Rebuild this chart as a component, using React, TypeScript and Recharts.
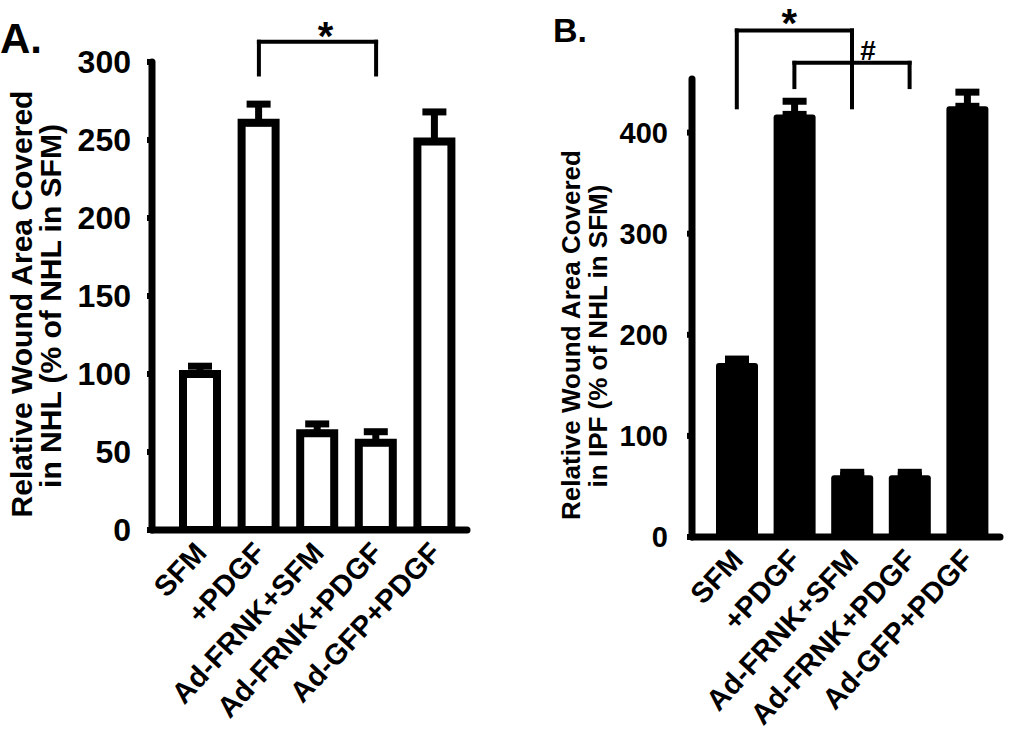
import { BarChart, Bar, XAxis, YAxis, ErrorBar, ReferenceLine, ReferenceDot } from 'recharts';

const FONT = "'Liberation Sans', Arial, Helvetica, sans-serif";

const categories = ['SFM', '+PDGF', 'Ad-FRNK+SFM', 'Ad-FRNK+PDGF', 'Ad-GFP+PDGF'];

// panel A: NHL fibroblasts
const nhlValues = [100, 261, 62, 56, 249];
const nhlErrors = [5, 12, 6, 7, 19];
const nhlTicks = [0, 50, 100, 150, 200, 250, 300];

// panel B: IPF fibroblasts
const ipfValues = [172, 418, 61, 61, 426];
const ipfErrors = [4, 13, 3, 3, 14];
const ipfTicks = [0, 100, 200, 300, 400];

// significance brackets (data units)
const nhlBrackets = [{ from: '+PDGF', to: 'Ad-FRNK+PDGF', top: 313, foot: 292 }];
const nhlMarks = [{ at: 'Ad-FRNK+SFM', y: 308, text: '*', size: 40, dx: 8 }];
const ipfBrackets = [
  { from: 'SFM', to: 'Ad-FRNK+SFM', top: 501, foot: 425 },
  { from: '+PDGF', to: 'Ad-FRNK+PDGF', top: 469, foot: 445 },
];
const ipfMarks = [
  { at: '+PDGF', y: 495, text: '*', size: 40, dx: -5 },
  { at: 'Ad-FRNK+SFM', y: 472, text: '#', size: 28, dx: 16 },
];

const nhlData = categories.map((name, i) => ({ name, value: nhlValues[i], err: [0, nhlErrors[i]] }));
const ipfData = categories.map((name, i) => ({ name, value: ipfValues[i], err: [0, ipfErrors[i]] }));

const axisStyle = { stroke: '#000', strokeWidth: 7, strokeLinecap: 'round' as const };

function SlantTick(props: any) {
  const { x, y, payload, fontSize } = props;
  return (
    <g transform={`translate(${x + 8},${y + 22}) rotate(-47)`}>
      <text x={0} y={0} textAnchor="end" fill="#000" fontSize={fontSize} fontWeight={700} fontFamily={FONT}>
        {payload.value}
      </text>
    </g>
  );
}

function bracketLines(list: any[], key: string) {
  const out: any[] = [];
  list.forEach((b, i) => {
    const seg = { stroke: '#000', strokeWidth: 4, strokeLinecap: 'square' as const, ifOverflow: 'visible' as const };
    out.push(<ReferenceLine key={`${key}h${i}`} segment={[{ x: b.from, y: b.top }, { x: b.to, y: b.top }]} {...seg} />);
    out.push(<ReferenceLine key={`${key}l${i}`} segment={[{ x: b.from, y: b.top }, { x: b.from, y: b.foot }]} {...seg} />);
    out.push(<ReferenceLine key={`${key}r${i}`} segment={[{ x: b.to, y: b.top }, { x: b.to, y: b.foot }]} {...seg} />);
  });
  return out;
}

function markDots(list: any[], key: string) {
  return list.map((m, i) => (
    <ReferenceDot
      key={`${key}m${i}`}
      x={m.at}
      y={m.y}
      r={0}
      ifOverflow="visible"
      shape={(p: any) => (
        <text x={p.cx + m.dx} y={p.cy} textAnchor="middle" fill="#000" fontSize={m.size} fontWeight={700} fontFamily={FONT}>
          {m.text}
        </text>
      )}
    />
  ));
}

export default function App() {
  return (
    <div style={{ position: 'absolute', left: 0, top: 0, width: 1032, height: 736, background: '#fff', overflow: 'hidden' }}>
      <div style={{ position: 'absolute', left: 0, top: 0 }}>
        <BarChart width={520} height={736} data={nhlData} margin={{ top: 62, right: 53, bottom: 176, left: 0 }}>
          <XAxis
            dataKey="name"
            height={30}
            interval={0}
            padding={{ left: 19, right: 3 }}
            axisLine={axisStyle}
            tickLine={false}
            tickSize={0}
            tick={<SlantTick fontSize={29} />}
          />
          <YAxis
            width={152}
            domain={[0, 300]}
            ticks={nhlTicks}
            allowDataOverflow
            axisLine={axisStyle}
            tickLine={{ stroke: '#000', strokeWidth: 6 }}
            tickSize={5}
            tickMargin={16}
            tick={{ fill: '#000', fontSize: 32, fontWeight: 700, fontFamily: FONT }}
          />
          <Bar dataKey="value" fill="#fff" stroke="#000" strokeWidth={8} barSize={34} isAnimationActive={false}>
            <ErrorBar dataKey="err" width={12} stroke="#000" strokeWidth={7} direction="y" />
          </Bar>
          {bracketLines(nhlBrackets, 'a')}
          {markDots(nhlMarks, 'a')}
          <text x={0} y={53} fontSize={42} fontWeight={700} fontFamily={FONT} fill="#000">A.</text>
          <text transform="translate(32,304) rotate(-90)" textAnchor="middle" fontSize={30} fontWeight={700} fontFamily={FONT} fill="#000">
            Relative Wound Area Covered
          </text>
          <text transform="translate(61,306) rotate(-90)" textAnchor="middle" fontSize={30} fontWeight={700} fontFamily={FONT} fill="#000">
            in NHL (% of NHL in SFM)
          </text>
        </BarChart>
      </div>
      <div style={{ position: 'absolute', left: 540, top: 0 }}>
        <BarChart width={492} height={736} data={ipfData} margin={{ top: 79, right: 32, bottom: 169, left: 0 }}>
          <XAxis
            dataKey="name"
            height={30}
            interval={0}
            padding={{ left: 16, right: 4 }}
            axisLine={axisStyle}
            tickLine={false}
            tickSize={0}
            tick={<SlantTick fontSize={29} />}
          />
          <YAxis
            width={152}
            domain={[0, 453]}
            ticks={ipfTicks}
            allowDataOverflow
            axisLine={axisStyle}
            tickLine={{ stroke: '#000', strokeWidth: 6 }}
            tickSize={5}
            tickMargin={19}
            tick={{ fill: '#000', fontSize: 29, fontWeight: 700, fontFamily: FONT }}
          />
          <Bar dataKey="value" fill="#000" barSize={42} radius={[3, 3, 0, 0]} isAnimationActive={false}>
            <ErrorBar dataKey="err" width={12} stroke="#000" strokeWidth={7} direction="y" />
          </Bar>
          {bracketLines(ipfBrackets, 'b')}
          {markDots(ipfMarks, 'b')}
          <text x={13} y={42} fontSize={34} fontWeight={700} fontFamily={FONT} fill="#000">B.</text>
          <text transform="translate(40,335) rotate(-90)" textAnchor="middle" fontSize={26} fontWeight={700} fontFamily={FONT} fill="#000">
            Relative Wound Area Covered
          </text>
          <text transform="translate(67,336) rotate(-90)" textAnchor="middle" fontSize={26} fontWeight={700} fontFamily={FONT} fill="#000">
            in IPF (% of NHL in SFM)
          </text>
        </BarChart>
      </div>
    </div>
  );
}
